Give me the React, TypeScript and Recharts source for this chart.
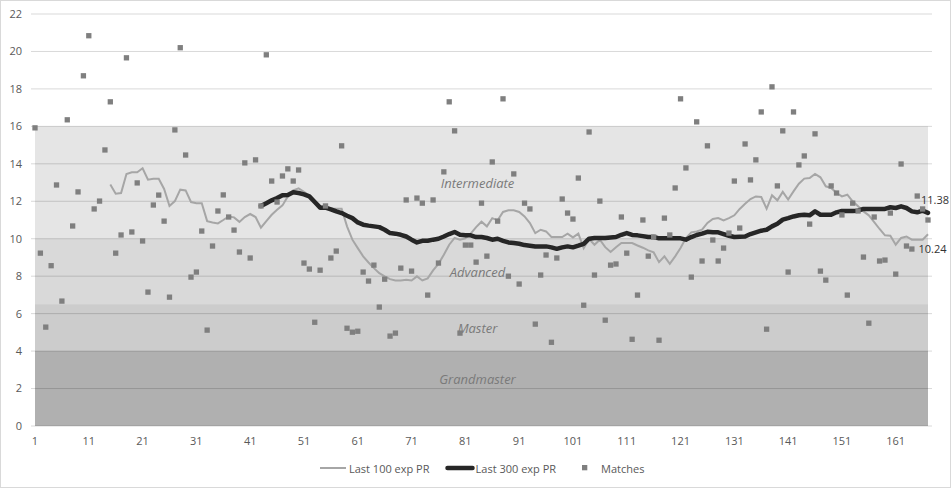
import {
  ComposedChart,
  Line,
  Scatter,
  XAxis,
  YAxis,
  CartesianGrid,
  ReferenceArea,
  Legend,
  LabelList,
} from 'recharts';

// one match result per game
const matches = [
  15.92, 9.23, 5.28, 8.56, 12.87, 6.67, 16.35, 10.68, 12.5, 18.7,
  20.84, 11.59, 12.01, 14.74, 17.31, 9.23, 10.2, 19.66, 10.36, 12.98,
  9.88, 7.15, 11.8, 12.33, 10.94, 6.88, 15.81, 20.2, 14.47, 7.95,
  8.22, 10.41, 5.12, 9.61, 11.48, 12.34, 11.16, 10.46, 9.29, 14.05,
  8.97, 14.21, 11.75, 19.82, 13.08, 11.96, 13.35, 13.73, 13.08, 13.67,
  8.7, 8.38, 5.54, 8.32, 11.75, 8.97, 9.34, 14.96, 5.22, 5.01,
  5.06, 8.22, 7.74, 8.59, 6.35, 7.84, 4.8, 4.96, 8.43, 12.07,
  8.27, 12.17, 11.9, 6.99, 12.07, 8.7, 13.57, 17.31, 15.76, 4.96,
  9.66, 9.66, 8.75, 11.9, 9.07, 14.1, 10.94, 17.47, 8.0, 13.46,
  7.58, 11.9, 11.59, 5.44, 8.06, 9.13, 4.47, 8.97, 12.12, 11.37,
  11.05, 13.24, 6.45, 15.7, 8.06, 12.01, 5.65, 8.59, 8.65, 11.16,
  9.23, 4.63, 6.99, 11.0, 9.07, 10.09, 4.58, 11.1, 10.2, 12.71,
  17.47, 13.78, 7.95, 16.24, 8.81, 14.96, 9.93, 8.81, 9.5, 10.3,
  13.08, 10.57, 15.06, 13.14, 14.21, 16.77, 5.17, 18.11, 12.82, 15.76,
  8.22, 16.77, 13.94, 14.42, 10.78, 15.6, 8.27, 7.79, 12.82, 12.44,
  11.27, 6.99, 11.9, 11.48, 9.02, 5.49, 11.16, 8.81, 8.86, 11.37,
  8.11, 13.99, 9.61, 9.45, 12.28, 11.59, 11.0,
];

// moving averages start later in the series
const last100Start = 15;
const last100 = [
  12.89, 12.4, 12.44, 13.46, 13.55, 13.55, 13.76, 13.15, 13.2, 13.2,
  12.66, 11.75, 12.01, 12.62, 12.58, 11.96, 11.9, 11.9, 10.94, 10.87,
  10.82, 11.0, 11.19, 11.14, 10.9, 11.16, 11.32, 11.16, 10.59, 10.94,
  11.28, 11.55, 11.78, 12.26, 12.58, 12.69, 12.51, 12.3, 11.9, 11.73,
  11.69, 11.62, 11.6, 11.6, 10.66, 9.95, 9.5, 9.06, 8.73, 8.43,
  8.16, 7.99, 7.84, 7.77, 7.77, 7.81, 7.77, 7.99, 7.77, 7.88,
  8.31, 8.66, 9.14, 9.68, 10.04, 9.95, 10.02, 10.27, 10.62, 10.91,
  10.66, 11.1, 10.98, 11.43, 11.52, 11.52, 11.43, 11.19, 10.84, 10.3,
  10.48, 10.39, 10.09, 10.09, 10.09, 10.27, 10.07, 10.27, 9.5, 9.98,
  9.68, 9.95, 9.55, 9.29, 9.54, 9.77, 9.77, 9.77,
  9.64, 9.52, 9.38, 9.27, 8.75, 9.06, 8.66, 9.06, 9.5, 10.04,
  10.34, 10.39, 10.48, 10.84, 11.05, 11.1, 10.98, 11.1, 11.25, 11.59,
  11.87, 12.12, 12.26, 12.23, 11.6, 12.32, 12.05, 12.5,
  12.09, 12.53, 12.94, 13.21, 13.24, 13.46, 13.28, 12.8, 12.71, 12.44,
  12.26, 12.35, 12.0, 11.73, 11.46, 11.25, 10.89, 10.52, 10.18, 10.16,
  9.68, 10.04, 10.12, 9.95, 9.95, 9.95, 10.24,
];

const last300Start = 43;
const last300 = [
  11.75, 11.9, 12.05, 12.17, 12.32, 12.33, 12.48, 12.44, 12.37, 12.26,
  11.96, 11.66, 11.66, 11.57, 11.46, 11.37, 11.23, 11.1, 10.87, 10.75,
  10.7, 10.66, 10.62, 10.48, 10.3, 10.27, 10.21, 10.12, 9.95, 9.8,
  9.89, 9.89, 9.95, 10.0, 10.12, 10.25, 10.36, 10.21, 10.18, 10.18,
  10.09, 10.09, 10.04, 9.95, 10.0, 9.89, 9.8, 9.77, 9.73, 9.66,
  9.63, 9.59, 9.59, 9.59, 9.54, 9.46, 9.54, 9.59, 9.54, 9.63,
  9.73, 10.0, 10.04, 10.04, 10.04, 10.07, 10.09, 10.21, 10.3, 10.2,
  10.18, 10.14, 10.09, 10.09, 10.02, 10.02, 10.02, 10.02, 10.02, 9.95,
  10.09, 10.2, 10.27, 10.37, 10.34, 10.34, 10.25, 10.16, 10.09, 10.11,
  10.12, 10.25, 10.34, 10.43, 10.48, 10.66, 10.8, 11.02, 11.1, 11.19,
  11.25, 11.28, 11.25, 11.46, 11.28, 11.28, 11.28, 11.41, 11.48, 11.48,
  11.48, 11.5, 11.59, 11.59, 11.59, 11.59, 11.59, 11.68, 11.64, 11.73,
  11.64, 11.46, 11.41, 11.5, 11.38,
];

const xTicks = [1, 11, 21, 31, 41, 51, 61, 71, 81, 91, 101, 111, 121, 131, 141, 151, 161];
const yTicks = [0, 2, 4, 6, 8, 10, 12, 14, 16, 18, 20, 22];

const bands = [
  { name: 'Intermediate', from: 10, to: 16 },
  { name: 'Advanced', from: 6.5, to: 10 },
  { name: 'Master', from: 4, to: 6.5 },
  { name: 'Grandmaster', from: 0, to: 4 },
];

// darkening per band (black fill opacity), lets the grid show through
const BAND_SHADE: Record<string, number> = {
  Intermediate: 0.1,
  Advanced: 0.15,
  Master: 0.2,
  Grandmaster: 0.31,
};
const BAND_TEXT_AT: Record<string, number> = {
  Intermediate: 0.5,
  Advanced: 0.5,
  Master: 0.5,
  Grandmaster: 0.37,
};

const FONT = '"Open Sans", sans-serif';
const TICK = { fontSize: 11, fill: '#595959' };
const GRAY = '#a6a6a6';
const BLACK = '#262626';
const DOT = '#7f7f7f';

const chartData = matches.map((m, i) => {
  const game = i + 1;
  return {
    game,
    match: m,
    last100: game >= last100Start ? last100[game - last100Start] : null,
    last300: game >= last300Start ? last300[game - last300Start] : null,
  };
});
const LAST = chartData.length - 1;

function BandLabel({ viewBox, text, at }: any) {
  if (!viewBox) return null;
  const { x, y, width, height } = viewBox;
  return (
    <text
      x={x + width / 2 - 4}
      y={y + height * at}
      textAnchor="middle"
      dominantBaseline="central"
      fontStyle="italic"
      fontSize={13}
      fill="#7a7a7a"
    >
      {text}
    </text>
  );
}

const endLabel = (dx: number, dy: number) => (p: any) => {
  if (p.index !== LAST || p.value == null) return null;
  return (
    <text
      x={p.x + dx}
      y={p.y + dy}
      textAnchor="middle"
      dominantBaseline="central"
      fontSize={11}
      fill="#333333"
    >
      {Number(p.value).toFixed(2)}
    </text>
  );
};

const square = (p: any) => (
  <rect x={p.cx - 2.65} y={p.cy - 2.65} width={5.3} height={5.3} fill={DOT} />
);

function LegendRow() {
  return (
    <div
      style={{
        display: 'flex',
        alignItems: 'center',
        height: 16,
        paddingLeft: 320,
        fontSize: 11,
        color: '#595959',
        fontFamily: FONT,
        whiteSpace: 'nowrap',
      }}
    >
      <svg width={26} height={6}>
        <line x1={0} x2={26} y1={3} y2={3} stroke={GRAY} strokeWidth={2} />
      </svg>
      <span style={{ marginLeft: 3 }}>Last 100 exp PR</span>
      <svg width={30} height={6} style={{ marginLeft: 15 }}>
        <line x1={2.5} x2={27.5} y1={3} y2={3} stroke={BLACK} strokeWidth={4.5} strokeLinecap="round" />
      </svg>
      <span style={{ marginLeft: 1 }}>Last 300 exp PR</span>
      <svg width={6} height={6} style={{ marginLeft: 26 }}>
        <rect x={0} y={0} width={5.3} height={5.3} fill={DOT} />
      </svg>
      <span style={{ marginLeft: 13 }}>Matches</span>
    </div>
  );
}

export default function App() {
  return (
    <div style={{ position: 'absolute', left: 0, top: 0, width: 951, height: 488, background: '#fff' }}>
      <ComposedChart
        width={951}
        height={488}
        data={chartData}
        margin={{ top: 14, right: 19, bottom: 32, left: 0 }}
        style={{ fontFamily: FONT }}
      >
        <CartesianGrid vertical={false} stroke="#d9d9d9" />
        {bands.map(b => (
          <ReferenceArea
            key={b.name}
            x1={1}
            x2={167}
            y1={b.from}
            y2={b.to}
            fill="#000"
            fillOpacity={BAND_SHADE[b.name]}
            stroke="none"
            label={<BandLabel text={b.name} at={BAND_TEXT_AT[b.name]} />}
          />
        ))}
        <XAxis
          dataKey="game"
          type="number"
          domain={[1, 167]}
          ticks={xTicks}
          padding={{ left: 4, right: 4 }}
          axisLine={false}
          tickLine={false}
          tickMargin={5}
          height={30}
          tick={TICK}
          interval={0}
        />
        <YAxis
          domain={[0, 22]}
          ticks={yTicks}
          axisLine={false}
          tickLine={false}
          tickMargin={3}
          width={31}
          tick={TICK}
          interval={0}
        />
        <Legend
          layout="horizontal"
          verticalAlign="middle"
          align="center"
          wrapperStyle={{ top: 460, left: 0, width: 951 }}
          content={<LegendRow />}
        />
        <Line
          type="linear"
          dataKey="last100"
          name="Last 100 exp PR"
          stroke={GRAY}
          strokeWidth={2}
          dot={false}
          activeDot={false}
          isAnimationActive={false}
        >
          <LabelList dataKey="last100" content={endLabel(4.5, 14)} />
        </Line>
        <Line
          type="linear"
          dataKey="last300"
          name="Last 300 exp PR"
          stroke={BLACK}
          strokeWidth={4.5}
          strokeLinejoin="round"
          strokeLinecap="round"
          dot={false}
          activeDot={false}
          isAnimationActive={false}
        >
          <LabelList dataKey="last300" content={endLabel(7, -13)} />
        </Line>
        <Scatter dataKey="match" name="Matches" shape={square} isAnimationActive={false} />
      </ComposedChart>
      <div
        style={{
          position: 'absolute',
          inset: 0,
          border: '1px solid #d9d9d9',
          boxSizing: 'border-box',
          pointerEvents: 'none',
        }}
      />
    </div>
  );
}
